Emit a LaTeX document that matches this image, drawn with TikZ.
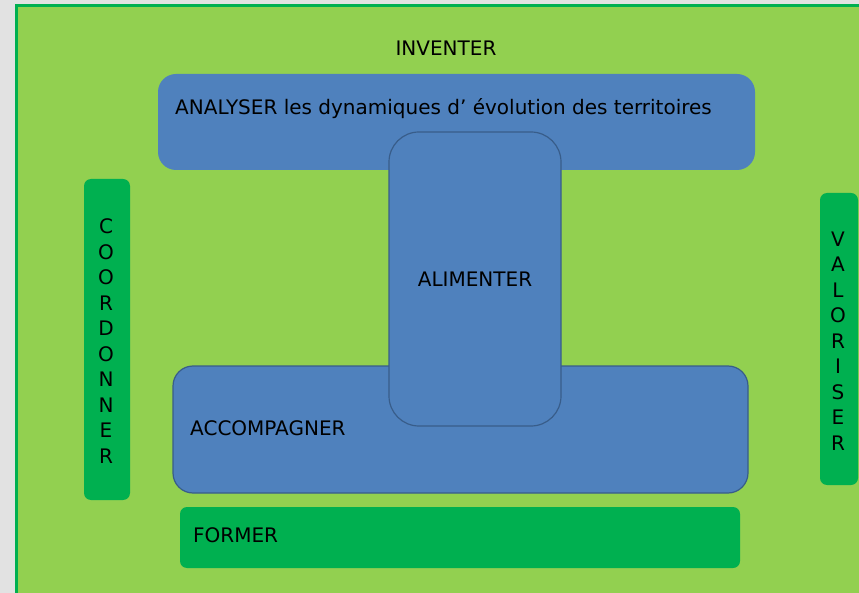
\documentclass[tikz,border=0pt]{standalone}
\usepackage{fontspec}
\setmainfont{DejaVu Sans}
\usepackage[HTML]{xcolor}
\usepackage{tikz}
\usetikzlibrary{positioning}

\definecolor{bggray}{HTML}{E2E2E2}
\definecolor{leaf}{HTML}{92D050}
\definecolor{grass}{HTML}{00B050}
\definecolor{sky}{HTML}{4F81BD}
\definecolor{skyline}{HTML}{385D8A}

\begin{document}
\begin{tikzpicture}[x=1pt, y=-1pt,
  every node/.style={font=\fontsize{20}{25.5}\selectfont, text=black},
  bluebox/.style={draw=skyline, line width=1.2pt, fill=sky, rounded corners=#1},
  bluebox/.default=20pt,
  greenbox/.style={fill=grass, rounded corners=7pt}]
% Canvas and frame
\clip (0,0) rectangle (859,593);
\fill[bggray] (0,0) rectangle (859,593);
\draw[draw=grass, line width=3pt, fill=leaf] (16,6) rectangle (880,620);

% Define the nodes
\node (inventer) at (446, 48) {INVENTER};

\node[bluebox=18pt, draw=none, minimum width=597pt, minimum height=96pt] (analyserbox) at (456.5, 122) {};
\node[anchor=west, inner sep=0pt] (analyser) at (175, 109) {ANALYSER les dynamiques d’ évolution des territoires};

\node[bluebox, minimum width=575pt, minimum height=127pt] (accompagnerbox) at (460.5, 429.5) {};
\node[anchor=west, inner sep=0pt] (accompagner) at (190, 428) {ACCOMPAGNER};

\node[bluebox=30pt, minimum width=172pt, minimum height=294pt] (alimenterbox) at (475, 279) {};
\node (alimenter) at (475, 279) {ALIMENTER};

\node[greenbox, minimum width=46pt, minimum height=321pt] (coordonnerbox) at (107, 339.5) {};
\node[align=center, inner sep=0pt] (coordonner) at (106, 341) {C\\O\\O\\R\\D\\O\\N\\N\\E\\R};

\node[greenbox, minimum width=38pt, minimum height=292pt] (valoriserbox) at (839, 339) {};
\node[align=center, inner sep=0pt] (valoriser) at (838, 341) {V\\A\\L\\O\\R\\I\\S\\E\\R};

\node[greenbox, minimum width=560pt, minimum height=61pt] (formerbox) at (460, 537.5) {};
\node[anchor=west, inner sep=0pt] (former) at (193, 535) {FORMER};
\end{tikzpicture}
\end{document}
